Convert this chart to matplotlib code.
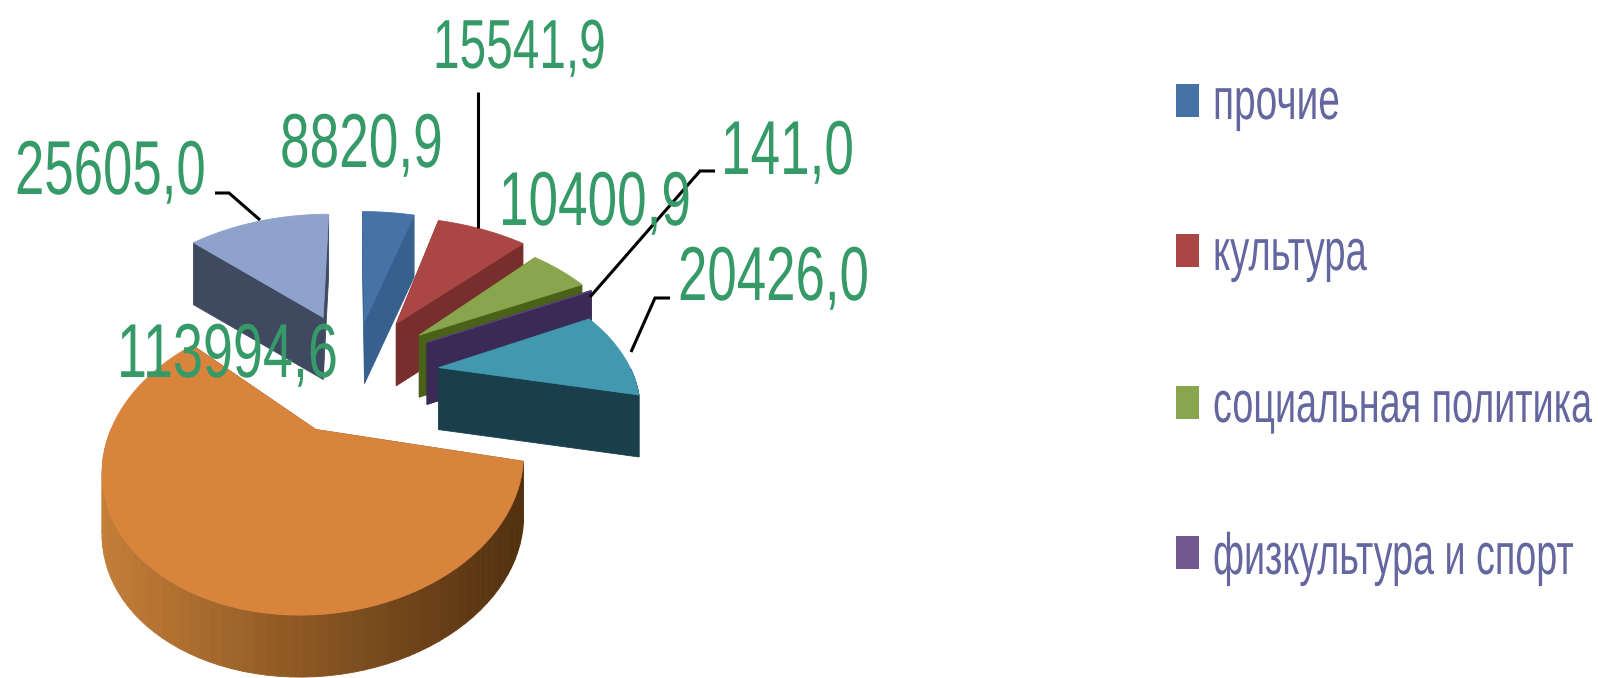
import numpy as np
import matplotlib
matplotlib.use("Agg")
import matplotlib.pyplot as plt
from matplotlib.colors import to_rgb
from matplotlib.patches import Polygon, Rectangle
from matplotlib.patheffects import AbstractPathEffect
from matplotlib.transforms import Affine2D

values = [8820.9, 15541.9, 10400.9, 141.0, 20426.0, 113994.6, 25605.0]
value_labels = ["8820,9", "15541,9", "10400,9", "141,0", "20426,0", "113994,6", "25605,0"]
legend_names = ["прочие", "культура", "социальная политика", "физкультура и спорт"]

top_colors = ["#4573A7", "#AA4644", "#89A54E", "#5A4578", "#4198AF", "#D9843D", "#8FA2CC"]
side_colors = ["#37608F", "#772E2C", "#4A6118", "#3A2A55", "#1A3F4C", "#7A4A20", "#3F4A60"]
legend_colors = ["#4573A7", "#AA4644", "#89A54E", "#71588F"]

explode = [0.35, 0.39, 0.40, 0.40, 0.41, 0.48, 0.36]
radius = [1.20, 1.15, 1.05, 1.05, 0.93, 0.85, 1.10]
nudge = [(0, 0), (3, 1), (0, 0), (0, 0), (0, 9), (12, 0), (-4, -6)]
x_scale = [1, 1, 1, 1, 1, 1.04, 1]

# left edge, baseline, width on the picture, font size
label_pos = [(280, 167, 163, 55), (433, 68, 173, 50), (499, 225, 192, 55), (721, 174, 133, 55),
             (678, 300, 191, 55), (117, 377, 221, 55), (15, 194, 191, 55)]
legend_rows = [(84, 119, 127), (234, 270, 154), (386, 422, 379), (536, 574, 361)]
leaders = [
    [(215, 193), (229, 193), (260, 220)],
    [(478, 92), (478, 228)],
    [(715, 171), (700, 171), (590, 297)],
    [(670, 298), (655, 298), (631, 352)],
]

family = "Liberation Sans"
cx, cy = 355, 365
A, B, p = 208, 136, 0.24
depth = 62


class Squeeze(AbstractPathEffect):
    # no condensed font here, so narrow the glyphs around an anchor x
    def __init__(self, x0, sx):
        super().__init__()
        self.x0 = x0
        self.sx = sx

    def draw_path(self, renderer, gc, tpath, affine, rgbFace=None):
        squeeze = Affine2D().translate(-self.x0, 0).scale(self.sx, 1).translate(self.x0, 0)
        renderer.draw_path(gc, tpath, affine + squeeze, rgbFace)


def project(u, v):
    w = 1 - p * v
    return cx + A * u / w, cy + B * v / w


fig = plt.figure(figsize=(15.98, 6.78), dpi=100)
ax = fig.add_axes([0, 0, 1, 1])
ax.set_xlim(0, 1598)
ax.set_ylim(678, 0)
ax.axis("off")


def face(pts, color, z):
    ax.add_patch(Polygon(pts, closed=True, facecolor=color, edgecolor=color, lw=0.6, zorder=z))


def narrow_text(x, y, s, color, size, width, ha="left"):
    t = ax.text(x, y, s, color=color, fontsize=size, family=family, ha=ha, va="baseline", zorder=40)
    natural = t.get_window_extent(fig.canvas.get_renderer()).width
    x0 = ax.transData.transform((x, y))[0]
    t.set_path_effects([Squeeze(x0, width / natural)])


angles = 360 * np.cumsum([0] + values) / sum(values)
# far slices first, orange goes last
for z, i in enumerate([6, 0, 1, 2, 3, 4, 5]):
    a0, a1 = np.radians(angles[i]), np.radians(angles[i + 1])
    mid = (a0 + a1) / 2
    ou, ov = explode[i] * np.sin(mid), -explode[i] * np.cos(mid)
    t = np.linspace(a0, a1, 80)
    xs, ys = project(ou + radius[i] * np.sin(t), ov - radius[i] * np.cos(t))
    ax_, ay_ = project(ou, ov)
    xs = ax_ + (xs - ax_) * x_scale[i] + nudge[i][0]
    ys = ys + nudge[i][1]
    ax_, ay_ = ax_ + nudge[i][0], ay_ + nudge[i][1]

    # radial walls, the one facing the viewer has to end up on top
    wall0 = [(ax_, ay_), (xs[0], ys[0]), (xs[0], ys[0] + depth), (ax_, ay_ + depth)]
    wall1 = [(ax_, ay_), (xs[-1], ys[-1]), (xs[-1], ys[-1] + depth), (ax_, ay_ + depth)]
    walls = [wall1, wall0] if i == 6 else [wall0, wall1]
    for w_ in walls:
        face(w_, side_colors[i], 10 + z)

    # rim only where it looks at the viewer
    for k in range(len(t) - 1):
        if np.cos(t[k]) > 0.0:
            continue
        if i == 5:
            s = (xs[k] - xs.min()) / (xs.max() - xs.min())
            c = tuple((1 - s) * np.array(to_rgb("#C47E38")) + s * np.array(to_rgb("#52300F")))
        else:
            c = side_colors[i]
        face([(xs[k], ys[k]), (xs[k + 1], ys[k + 1]),
              (xs[k + 1], ys[k + 1] + depth), (xs[k], ys[k] + depth)], c, 10 + z)

    face(np.vstack([[ax_, ay_], np.column_stack([xs, ys])]), top_colors[i], 10 + z + 0.5)

for line in leaders:
    ax.plot([q[0] for q in line], [q[1] for q in line], color="black", lw=2.2, zorder=30,
            solid_capstyle="butt", solid_joinstyle="miter")

for lab, (x, y, w, size) in zip(value_labels, label_pos):
    narrow_text(x, y, lab, "#359A68", size, w)

# anchored on the right so the long names stay inside the figure before narrowing
for name, col, (y0, base, w) in zip(legend_names, legend_colors, legend_rows):
    ax.add_patch(Rectangle((1176, y0), 23, 33, facecolor=col, edgecolor="none", zorder=20))
    narrow_text(1213 + w, base, name, "#64679F", 42, w, ha="right")

fig.savefig("out.png", dpi=100, facecolor="white")
